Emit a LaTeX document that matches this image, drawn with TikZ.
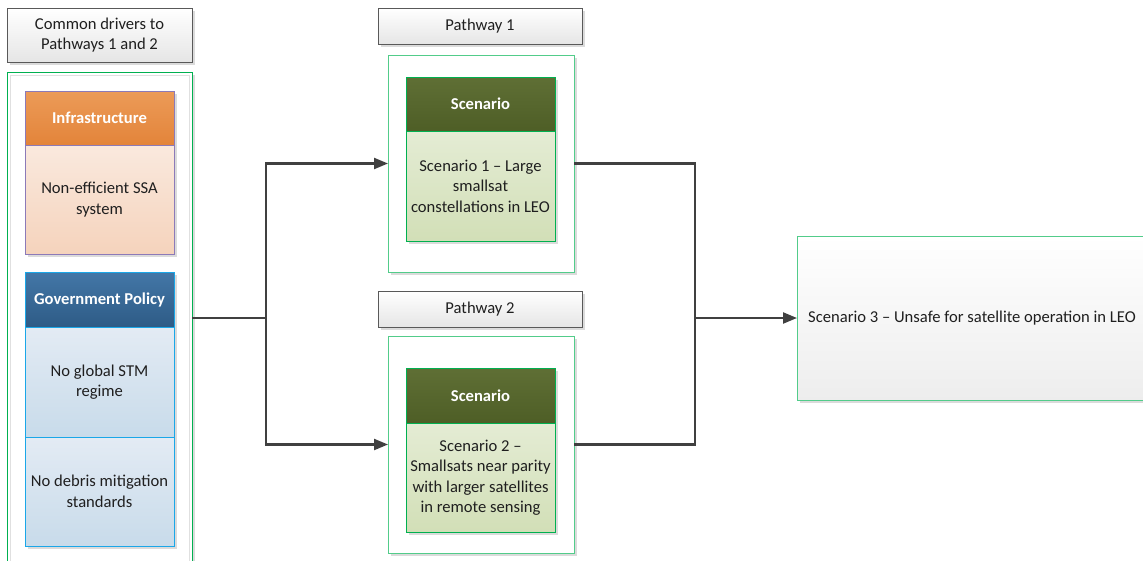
\documentclass[tikz,border=0pt]{standalone}
\usepackage{fontspec}
\setmainfont{Carlito}
\usetikzlibrary{arrows.meta,shadows}

\definecolor{ink}{HTML}{1F1F1F}
\definecolor{linegray}{HTML}{404040}
\definecolor{boxgray}{HTML}{595959}
\definecolor{grn}{HTML}{00B050}
\definecolor{lgrn}{HTML}{52CC8A}
\definecolor{orgtop}{HTML}{EC9B58}
\definecolor{orgbot}{HTML}{E3843A}
\definecolor{peachtop}{HTML}{FAE9DE}
\definecolor{peachbot}{HTML}{F5D3BC}
\definecolor{purp}{HTML}{8C7AB8}
\definecolor{bluetop}{HTML}{4377A7}
\definecolor{bluebot}{HTML}{2E5B86}
\definecolor{skytop}{HTML}{E3EBF4}
\definecolor{skybot}{HTML}{C8DBEA}
\definecolor{cyanline}{HTML}{1AA7E8}
\definecolor{olivetop}{HTML}{5F6F35}
\definecolor{olivebot}{HTML}{4E5E26}
\definecolor{sagetop}{HTML}{E4ECD4}
\definecolor{sagebot}{HTML}{D2DFB7}

\tikzset{
  txt/.style={font=\fontsize{16.6}{20.5}\selectfont, text=ink, align=center,
    inner sep=0pt, outer sep=0pt, anchor=north west},
  softshadow/.style={drop shadow={shadow xshift=3pt, shadow yshift=-3pt,
    fill=black!14, opacity=1}},
  labelbox/.style={txt, draw=boxgray, line width=0.9pt, top color=white,
    bottom color=black!10, softshadow},
  container/.style={txt, draw=#1, line width=0.9pt, fill=white, softshadow},
  hdr/.style={txt, text=white, font=\fontsize{16.6}{20.5}\selectfont\bfseries,
    line width=0.9pt, minimum width=149pt, softshadow},
  cell/.style={txt, line width=0.9pt, minimum width=149pt, softshadow},
  conn/.style={draw=linegray, line width=2.2pt},
  arr/.style={conn, -{Triangle[length=14pt,width=11pt]}},
}

\begin{document}
\begin{tikzpicture}[x=1pt, y=-1pt]
\useasboundingbox (0,0) rectangle (1143,560);

% left column: common drivers
\node[labelbox, minimum width=185pt, minimum height=54pt] (common) at (7,8)
  {Common drivers to\\Pathways 1 and 2};
\node[container=grn, minimum width=185pt, minimum height=492pt] (drivers) at (7,72) {};
\draw[black!12, line width=0.8pt] ([shift={(3pt,-3pt)}]drivers.north west)
  rectangle ([shift={(-3pt,3pt)}]drivers.south east);

\node[hdr, draw=purp, top color=orgtop, bottom color=orgbot, minimum height=54pt]
  (infh) at (25,91) {Infrastructure};
\node[cell, draw=purp, top color=peachtop, bottom color=peachbot, minimum height=109pt]
  (infb) at (infh.south west) {Non-efficient SSA\\system};

\node[hdr, draw=cyanline, top color=bluetop, bottom color=bluebot, minimum height=55pt]
  (govh) at (25,272) {Government Policy};
\node[cell, draw=cyanline, top color=skytop, bottom color=skybot, minimum height=110pt]
  (govba) at (govh.south west) {No global STM\\regime};
\node[cell, draw=cyanline, top color=skytop, bottom color=skybot, minimum height=109pt]
  (govbb) at (govba.south west) {No debris mitigation\\standards};

% pathway 1
\node[labelbox, minimum width=204pt, minimum height=36pt] (pl1) at (378,8) {Pathway 1};
\node[container=lgrn, minimum width=186pt, minimum height=217pt] (pw1) at (388,55) {};
\node[hdr, draw=grn, top color=olivetop, bottom color=olivebot, minimum height=54pt]
  (sc1h) at (406,77) {Scenario};
\node[cell, draw=grn, top color=sagetop, bottom color=sagebot, minimum height=110pt]
  (sc1b) at (sc1h.south west) {Scenario 1 -- Large\\smallsat\\constellations in LEO};

% pathway 2
\node[labelbox, minimum width=204pt, minimum height=36pt] (pl2) at (378,291) {Pathway 2};
\node[container=lgrn, minimum width=186pt, minimum height=217pt] (pw2) at (388,336) {};
\node[hdr, draw=grn, top color=olivetop, bottom color=olivebot, minimum height=55pt]
  (sc2h) at (406,368) {Scenario};
\node[cell, draw=grn, top color=sagetop, bottom color=sagebot, minimum height=109pt]
  (sc2b) at (sc2h.south west) {Scenario 2 --\\Smallsats near parity\\with larger satellites\\in remote sensing};

% outcome
\node[txt, draw=lgrn, line width=0.9pt, top color=white, bottom color=black!7,
  softshadow, minimum width=350pt, minimum height=164pt] (s3) at (797,236)
  {Scenario 3 -- Unsafe for satellite operation in LEO};

% connectors
\draw[conn] (drivers.east) -- ++(74,0) coordinate (split);
\draw[arr] (split) |- (pw1.west);
\draw[arr] (split) |- (pw2.west);
\path (s3.west) ++(-102,0) coordinate (merge);
\draw[conn] (pw1.east) -| (merge) |- (pw2.east);
\draw[arr] (merge) -- (s3.west);
\end{tikzpicture}
\end{document}
